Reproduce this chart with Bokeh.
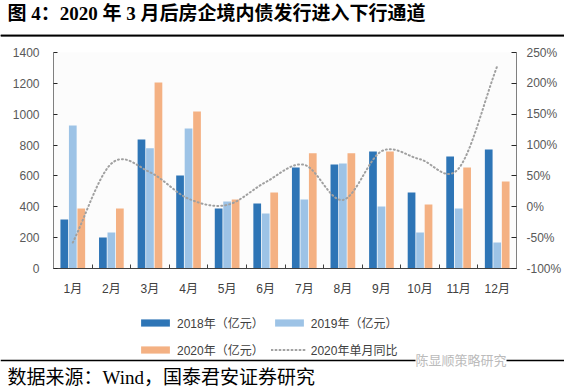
import numpy as np
from bokeh.plotting import figure
from bokeh.layouts import column
from bokeh.models import (Range1d, LinearAxis, FixedTicker, PrintfTickFormatter,
                          Legend, LegendItem, Label, BoxAnnotation)
from bokeh.embed import file_html
from bokeh.resources import INLINE

# ---------------- data ----------------
months = ["1月", "2月", "3月", "4月", "5月", "6月", "7月", "8月", "9月", "10月", "11月", "12月"]
y2018 = [318, 201, 836, 603, 389, 421, 655, 674, 758, 493, 726, 771]
y2019 = [927, 233, 780, 907, 434, 356, 447, 680, 402, 233, 389, 168]
y2020 = [389, 389, 1206, 1017, 447, 493, 747, 747, 758, 415, 655, 564]
yoy2020 = [-58, 70, 56, 13, 3, 40, 68, 11, 90, 77, 62, 228]   # %
series_names = ["2018年（亿元）", "2019年（亿元）", "2020年（亿元）", "2020年单月同比"]
title_text = "图 4：2020 年 3 月后房企境内债发行进入下行通道"
source_text = "数据来源：Wind，国泰君安证券研究"
watermark_text = "陈显顺策略研究"
left_ticks = [0, 200, 400, 600, 800, 1000, 1200, 1400]
right_ticks = [-100, -50, 0, 50, 100, 150, 200, 250]

C18, C19, C20, CLINE = "#2E75B6", "#9DC3E6", "#F4B183", "#A0A0A0"
SANS = "Liberation Sans, Noto Sans CJK SC"
SERIF = "Liberation Serif, Noto Sans CJK SC"
W = 564
LINE_STYLE = dict(line_color=CLINE, line_width=2, line_dash="1 3", line_cap="round")


def blank_fig(h):
    f = figure(width=W, height=h, output_backend="svg", toolbar_location=None,
               x_range=Range1d(0, W), y_range=Range1d(h, 0),
               x_axis_type=None, y_axis_type=None, min_border=0,
               outline_line_color=None, background_fill_color="white",
               border_fill_color="white", frame_align=False)
    f.grid.visible = False
    return f


# ---------------- header ----------------
top = blank_fig(44)
top.add_layout(Label(x=7, y=13, text=title_text, text_font=SERIF, text_font_size="19px",
                     text_font_style="bold", text_baseline="middle", text_color="black"))
top.add_layout(BoxAnnotation(left=0, right=W, top=34.2, bottom=35.9, fill_color="black",
                             fill_alpha=1, line_color=None))
top.segment(x0=[0], x1=[W], y0=[35], y1=[35], line_color="black", line_width=1.7)

# ---------------- main chart ----------------
x = np.arange(1, len(months) + 1)
p = figure(width=W, height=256, output_backend="svg", toolbar_location=None,
           x_range=Range1d(0.5, len(months) + 0.5), y_range=Range1d(0, 1400),
           min_border_left=53, min_border_right=45, min_border_top=8, min_border_bottom=32,
           background_fill_color="#FCFCFC", border_fill_color="white", outline_line_color=None,
           frame_align=False)
p.grid.visible = False
p.extra_y_ranges = {"pct": Range1d(-100, 250)}

bw, off = 0.2, 0.22
p.vbar(x=x - off, top=y2018, width=bw, bottom=0, fill_color=C18, line_color=None)
p.vbar(x=x, top=y2019, width=bw, bottom=0, fill_color=C19, line_color=None)
p.vbar(x=x + off, top=y2020, width=bw, bottom=0, fill_color=C20, line_color=None)


# smoothed (Catmull-Rom) rendering of the yoy series, as in the source chart
def catmull_rom(xs, ys, n=24):
    xs = np.asarray(xs, float); ys = np.asarray(ys, float)
    px = np.concatenate([[2 * xs[0] - xs[1]], xs, [2 * xs[-1] - xs[-2]]])
    py = np.concatenate([[2 * ys[0] - ys[1]], ys, [2 * ys[-1] - ys[-2]]])
    ox, oy = [], []
    for i in range(1, len(px) - 2):
        t = np.linspace(0, 1, n, endpoint=False)
        for arr, out in ((px, ox), (py, oy)):
            p0, p1, p2, p3 = arr[i - 1], arr[i], arr[i + 1], arr[i + 2]
            out.extend(0.5 * (2 * p1 + (-p0 + p2) * t + (2 * p0 - 5 * p1 + 4 * p2 - p3) * t ** 2
                              + (-p0 + 3 * p1 - 3 * p2 + p3) * t ** 3))
    ox.append(xs[-1]); oy.append(ys[-1])
    return ox, oy


sx, sy = catmull_rom(x, yoy2020)
p.line(sx, sy, y_range_name="pct", **LINE_STYLE)

xa = p.xaxis[0]
xa.ticker = FixedTicker(ticks=list(x), minor_ticks=list(np.arange(0.5, len(months) + 1, 1.0)))
xa.major_label_overrides = {int(i): m for i, m in zip(x, months)}
xa.major_tick_line_color = None
xa.minor_tick_in = 4
xa.minor_tick_out = 0
xa.minor_tick_line_color = "#404040"
xa.axis_line_color = "#404040"
xa.major_label_text_font = SANS
xa.major_label_text_font_size = "12px"
xa.major_label_text_color = "#404040"
xa.major_label_standoff = 7

ya = p.yaxis[0]
ya.ticker = FixedTicker(ticks=left_ticks)
ya.axis_line_color = "#808080"
ya.major_tick_in = 4
ya.major_tick_out = 0
ya.major_tick_line_color = "#262626"
ya.minor_tick_line_color = None
ya.major_label_text_font = SANS
ya.major_label_text_font_size = "12px"
ya.major_label_text_color = "#595959"
ya.major_label_standoff = 14

ra = LinearAxis(y_range_name="pct", ticker=FixedTicker(ticks=right_ticks),
                formatter=PrintfTickFormatter(format="%d%%"))
ra.axis_line_color = "#808080"
ra.major_tick_in = 5
ra.major_tick_out = 0
ra.major_tick_line_color = "#262626"
ra.minor_tick_line_color = None
ra.major_label_text_font = SANS
ra.major_label_text_font_size = "12px"
ra.major_label_text_color = "#595959"
ra.major_label_standoff = 10
p.add_layout(ra, "right")

# ---------------- legend + footer ----------------
bot = blank_fig(90)
# legend-only proxies (zero-size, drawn off the visible range)
k18 = bot.vbar(x=[-50], top=[0], width=0, fill_color=C18, line_color=None)
k19 = bot.vbar(x=[-50], top=[0], width=0, fill_color=C19, line_color=None)
k20 = bot.vbar(x=[-50], top=[0], width=0, fill_color=C20, line_color=None)
kl = bot.line(x=[-50, -40], y=[0, 0], **LINE_STYLE)
legend = Legend(items=[LegendItem(label=series_names[0], renderers=[k18]),
                       LegendItem(label=series_names[1], renderers=[k19]),
                       LegendItem(label=series_names[2], renderers=[k20]),
                       LegendItem(label=series_names[3], renderers=[kl])],
                location=(137, 31), orientation="horizontal", ncols=2,
                glyph_width=36, glyph_height=9, label_standoff=4, spacing=7,
                label_height=20, padding=0, margin=0,
                border_line_color=None, background_fill_alpha=0,
                label_text_font=SANS, label_text_font_size="12px", label_text_color="#404040")
bot.add_layout(legend, "center")
bot.segment(x0=[0], x1=[W], y0=[60], y1=[60], line_color="black", line_width=1.5)
bot.add_layout(Label(x=7, y=77, text=source_text, text_font=SERIF, text_font_size="19px",
                     text_baseline="middle", text_color="black"))
bot.add_layout(Label(x=415, y=60, text=watermark_text, text_font=SANS, text_font_size="13px",
                     text_baseline="middle", text_color="#BBBBBB",
                     background_fill_color="white"))

layout = column(top, p, bot, spacing=0)
open("out.html", "w").write(file_html(layout, INLINE))
